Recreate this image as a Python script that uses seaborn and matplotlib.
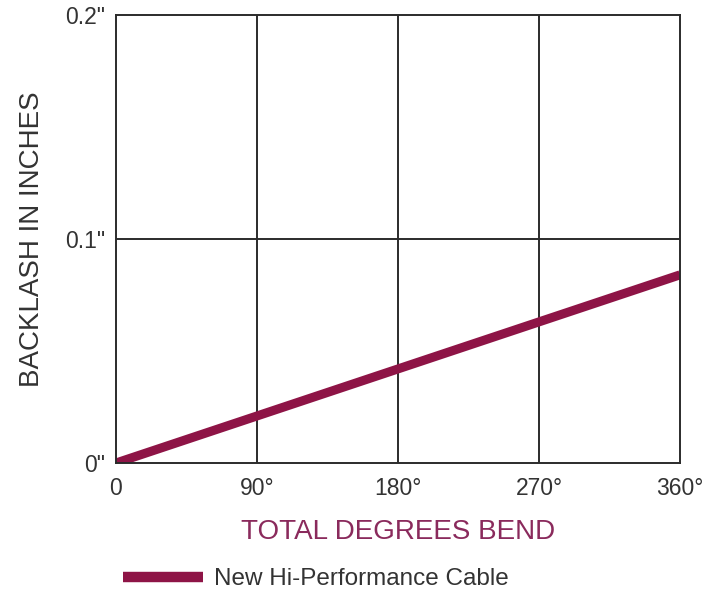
import pandas as pd
import matplotlib.pyplot as plt
import seaborn as sns

# data
degrees = [0, 90, 180, 270, 360]
backlash = [0.0, 0.021, 0.042, 0.063, 0.084]
x_ticks = [0, 90, 180, 270, 360]
x_tick_labels = ["0", "90°", "180°", "270°", "360°"]
y_ticks = [0.0, 0.1, 0.2]
y_tick_labels = ['0"', '0.1"', '0.2"']
series_name = "New Hi-Performance Cable"

df = pd.DataFrame({"deg": degrees, "backlash": backlash, "series": series_name})

sns.set_style("white")
plt.rcParams["font.family"] = ["Liberation Sans", "DejaVu Sans"]

line_color = "#8e1446"
grid_color = "#2b2b2b"

fig = plt.figure(figsize=(7.23, 5.89), dpi=100)
ax = fig.add_axes([0.1604, 0.2139, 0.7801, 0.7606])

sns.lineplot(data=df, x="deg", y="backlash", color=line_color, linewidth=6.5,
             solid_capstyle="butt", ax=ax, legend=False)

ax.set_xlim(0, 360)
ax.set_ylim(0, 0.2)
ax.set_xticks(x_ticks)
ax.set_xticklabels(x_tick_labels)
ax.set_yticks(y_ticks)
ax.set_yticklabels(y_tick_labels)
ax.tick_params(axis="both", length=0, labelsize=16.5, colors="#333333")
ax.tick_params(axis="x", pad=10)
ax.tick_params(axis="y", pad=8)

for v in x_ticks[1:-1]:
    ax.axvline(v, color=grid_color, linewidth=1.4, zorder=1)
ax.axhline(0.1, color=grid_color, linewidth=1.4, zorder=1)
for s in ax.spines.values():
    s.set_color(grid_color)
    s.set_linewidth(1.4)

ax.set_xlabel("TOTAL DEGREES BEND", fontsize=20, color="#8a2a5c", labelpad=14)
ax.set_ylabel("BACKLASH IN INCHES", fontsize=20, color="#333333", labelpad=14)

handle = plt.Line2D([], [], color=line_color, linewidth=7.5, solid_capstyle="butt")
fig.legend([handle], [series_name], loc="center left",
           bbox_to_anchor=(123 / 723, 1 - 579 / 589),
           frameon=False, fontsize=17.5, handlelength=3.3, handletextpad=0.45,
           borderpad=0, borderaxespad=0, labelcolor="#333333")

fig.savefig("out.png", dpi=100)
